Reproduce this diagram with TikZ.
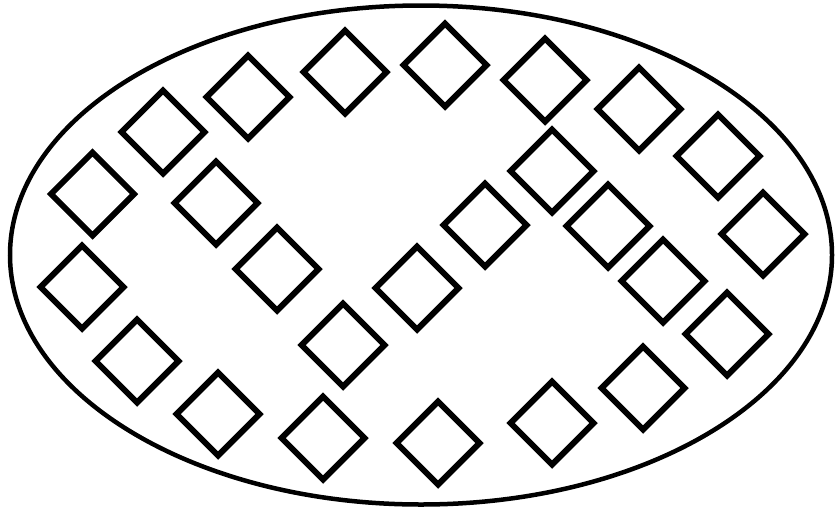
\documentclass[tikz,border=0pt]{standalone}
\begin{document}
\begin{tikzpicture}[x=1pt,y=-1pt,
  rim/.style={line width=4.5pt},
  tile/.style={line width=6pt, miter limit=10, line join=miter}]
\useasboundingbox (0,0) rectangle (840,512);
\draw[rim] (421,255) ellipse [x radius=411, y radius=249.5];
\foreach \x/\y in {92.5/194, 163/132, 248/97, 345/72, 445/65, 545/80, 639/109, 718/156, 763/234, 727/334, 643/388, 552/423, 438/443, 323/438, 218/414, 137/361, 82/287, 216/203, 277/269, 343/345, 417/288, 485/225, 552/171, 608/226, 663/281}
  \draw[tile] (\x,\y-41.5) -- (\x+41.5,\y) -- (\x,\y+41.5) -- (\x-41.5,\y) -- cycle;
\end{tikzpicture}
\end{document}
